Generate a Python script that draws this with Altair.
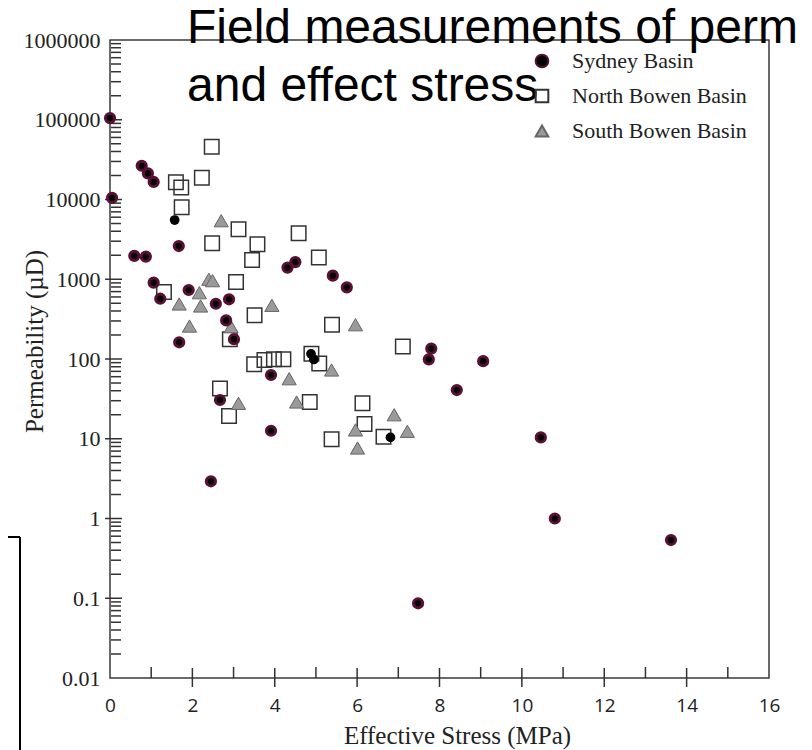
import altair as alt
import pandas as pd

basins = ["Sydney Basin", "North Bowen Basin", "South Bowen Basin"]

sydney_stress = [0.0, 0.77, 0.92, 1.06, 0.05, 1.67, 0.59, 0.87, 1.06, 1.22,
                 1.91, 2.57, 2.89, 2.82, 3.01, 1.68, 2.67, 3.91, 3.91, 4.31,
                 4.50, 5.41, 5.75, 2.45, 7.48, 10.80, 13.62, 7.80, 7.74, 9.06,
                 8.42, 10.46]
sydney_perm = [105000, 26500, 21300, 16600, 10500, 2610, 1960, 1920, 906, 570,
               733, 493, 561, 305, 177, 162, 30.6, 63, 12.6, 1400,
               1640, 1110, 792, 2.93, 0.0865, 1.0, 0.537, 135, 99, 94,
               40.8, 10.4]

black_stress = [1.57, 4.88, 4.95, 6.81]
black_perm = [5530, 116, 98.6, 10.4]

north_stress = [2.47, 1.60, 1.73, 2.23, 1.74, 2.48, 3.12, 3.58, 3.45, 4.58,
                5.07, 3.06, 1.31, 3.51, 5.39, 2.91, 3.50, 3.75, 3.98, 4.21,
                4.89, 5.08, 7.11, 2.67, 2.89, 4.85, 6.13, 6.18, 5.38, 6.64]
north_perm = [45900, 16400, 14100, 18800, 7980, 2830, 4230, 2740, 1740, 3770,
              1880, 925, 692, 353, 269, 177, 85.7, 97, 99, 99,
              116, 88, 143, 42.8, 19.3, 28.9, 27.8, 15.3, 9.85, 10.6]

south_stress = [2.70, 2.40, 2.49, 2.17, 1.68, 2.20, 1.93, 2.94, 3.93, 5.96,
                5.38, 4.35, 4.53, 3.12, 5.96, 6.01, 6.90, 7.22]
south_perm = [5420, 1000, 960, 678, 490, 462, 259, 254, 471, 269,
              72.8, 56.6, 28.9, 27.8, 12.9, 7.66, 20.0, 12.4]

x_labels = [0, 2, 4, 6, 8, 10, 12, 14, 16]
y_labels = [0.01, 0.1, 1, 10, 100, 1000, 10000, 100000, 1000000]
x_major_ticks = [2, 4, 6, 8, 10, 12, 14]
x_minor_ticks = [1, 3, 5, 7, 9, 11, 13, 15]
y_major_ticks = [0.1, 1, 10, 100, 1000, 10000, 100000]
y_minor_ticks = [k * d for d in [0.01, 0.1, 1, 10, 100, 1000, 10000, 100000]
                 for k in range(2, 10)]

title_lines = ["Field measurements of perm", "and effect stress"]

xscale = alt.Scale(domain=[0, 16], nice=False, zero=False)
yscale = alt.Scale(type="log", domain=[0.01, 1000000], nice=False)

xaxis = alt.Axis(values=x_labels, title="Effective Stress (MPa)", grid=False,
                 ticks=False, tickSize=0, domain=False,
                 labelFont="Open Sans", labelFontSize=19, labelColor="#222",
                 labelPadding=18, labelFlush=False, labelOverlap=False,
                 titleFont="Liberation Serif", titleFontSize=25,
                 titleFontWeight="normal", titleColor="#222",
                 titleX=347, titleY=65, titleAlign="center",
                 titleBaseline="alphabetic")
yaxis = alt.Axis(values=y_labels, labelExpr="'' + datum.value",
                 title="Permeability (µD)", grid=False,
                 ticks=False, tickSize=0, domain=False,
                 labelFont="Liberation Serif", labelFontSize=22, labelColor="#222",
                 labelPadding=10, labelFlush=False, labelOverlap=False,
                 titleFont="Liberation Serif", titleFontSize=25,
                 titleFontWeight="normal", titleColor="#222",
                 titleX=-68, titleY=301, titleAngle=270, titleAlign="center",
                 titleBaseline="alphabetic")

legend = alt.Legend(title=None, orient="none", legendX=421, legendY=10,
                    padding=0, labelFont="Liberation Serif", labelFontSize=22,
                    labelColor="#222", labelOffset=19, labelLimit=0, rowPadding=13,
                    symbolSize=160, symbolStrokeWidth=2, symbolOpacity=1)

shape_scale = alt.Scale(domain=basins, range=["circle", "square", "triangle-up"])
fill_scale = alt.Scale(domain=basins, range=["#000000", "transparent", "#9a9a9a"])
stroke_scale = alt.Scale(domain=basins, range=["#5a0f36", "#333333", "#666666"])


def X(field):
    return alt.X(field, type="quantitative", scale=xscale, axis=xaxis)


def Y(field):
    return alt.Y(field, type="quantitative", scale=yscale, axis=yaxis)


def series_layer(name, xs, ys, size, sw):
    df = pd.DataFrame({"stress": xs, "perm": ys, "basin": [name] * len(xs)})
    return alt.Chart(df).mark_point(filled=True, size=size, strokeWidth=sw,
                                    opacity=1).encode(
        x=X("stress"), y=Y("perm"),
        shape=alt.Shape("basin:N", scale=shape_scale, legend=legend),
        fill=alt.Fill("basin:N", scale=fill_scale, legend=legend),
        stroke=alt.Stroke("basin:N", scale=stroke_scale, legend=legend),
    )


xmaj = alt.Chart(pd.DataFrame({"v": x_major_ticks})).mark_rule(
    color="#333", strokeWidth=1.5).encode(
    x=X("v"), y=alt.value(628), y2=alt.value(647))
xmin = alt.Chart(pd.DataFrame({"v": x_minor_ticks})).mark_rule(
    color="#333", strokeWidth=1.5).encode(
    x=X("v"), y=alt.value(627), y2=alt.value(638))
ymaj = alt.Chart(pd.DataFrame({"v": y_major_ticks})).mark_rule(
    color="#333", strokeWidth=1.5).encode(
    y=Y("v"), x=alt.value(-5), x2=alt.value(12))
ymin = alt.Chart(pd.DataFrame({"v": y_minor_ticks})).mark_rule(
    color="#333", strokeWidth=1.5).encode(
    y=Y("v"), x=alt.value(1), x2=alt.value(11))

north = series_layer("North Bowen Basin", north_stress, north_perm, 210, 1.5)
south = series_layer("South Bowen Basin", south_stress, south_perm, 200, 1)
sydney = series_layer("Sydney Basin", sydney_stress, sydney_perm, 85, 3)

black = alt.Chart(pd.DataFrame({"stress": black_stress, "perm": black_perm})).mark_point(
    filled=True, shape="circle", size=95, color="#000000", opacity=1).encode(
    x=X("stress"), y=Y("perm"))

one = pd.DataFrame({"k": [0]})
title_text = alt.Chart(one).mark_text(
    align="left", baseline="alphabetic", font="Liberation Sans", fontSize=48,
    lineHeight=58, color="#000000").encode(
    x=alt.value(77), y=alt.value(3), text=alt.value(title_lines))

box_v = alt.Chart(one).mark_rule(color="#000000", strokeWidth=2).encode(
    x=alt.value(-90), y=alt.value(497), y2=alt.value(720))
box_h = alt.Chart(one).mark_rule(color="#000000", strokeWidth=2).encode(
    x=alt.value(-110), x2=alt.value(-90), y=alt.value(497))

chart = alt.layer(
    xmaj, xmin, ymaj, ymin, north, south, sydney, black, title_text, box_v, box_h
).properties(
    width=659, height=638,
    autosize=alt.AutoSizeParams(type="none"),
    padding={"left": 102, "top": 32, "right": 35, "bottom": 72},
    background="white",
).configure_view(stroke="#3a3a3a", strokeWidth=1.5)

chart.save("out.html", embed_options={"renderer": "svg", "actions": False})
